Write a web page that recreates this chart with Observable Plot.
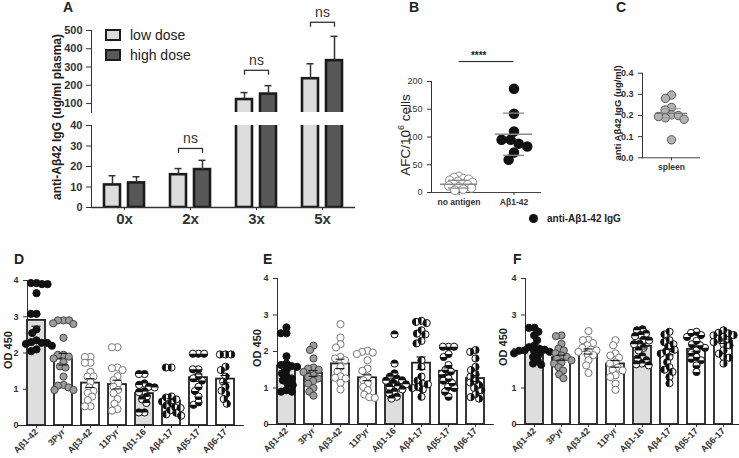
<!DOCTYPE html>
<html><head><meta charset="utf-8">
<script src="https://cdn.jsdelivr.net/npm/d3@7"></script>
<script src="https://cdn.jsdelivr.net/npm/@observablehq/plot@0.6"></script>
<style>
body{margin:0;background:#fff;}
#fig{position:relative;width:739px;height:458px;overflow:hidden;background:#fff;font-family:"Liberation Sans",Arial,Helvetica,sans-serif;color:#222}
.abs{position:absolute;line-height:1}
.abs svg{overflow:visible;display:block}
.letter{position:absolute;font-size:14px;font-weight:bold;line-height:1;color:#222}
.ylab{position:absolute;white-space:nowrap;line-height:1;transform:translate(-50%,-50%) rotate(-90deg);color:#222}
.pA [aria-label^="y-axis"] text{font-weight:bold;font-size:11px}
.pA [aria-label^="fx-axis"] text{font-weight:bold;font-size:15px}
.pB [aria-label^="y-axis"] text{font-size:9px}
.pB [aria-label^="fx-axis"] text,.pC [aria-label^="fx-axis"] text{font-weight:bold;font-size:8.5px}
.pC [aria-label^="y-axis"] text{font-weight:bold;font-size:9px}
.pD [aria-label^="y-axis"] text{font-weight:bold;font-size:9px}
.pD [aria-label^="fx-axis"] text{font-weight:bold;font-size:9px}
</style></head>
<body><div id="fig"></div>
<script>
// ---------------- DATA ----------------
// Panel A
const doseGroups = ["0x", "2x", "3x", "5x"];
const lowDoseMean = [11, 16, 122, 236];
const lowDoseSD = [4.5, 3, 38, 82];
const highDoseMean = [12, 18.5, 152, 335];
const highDoseSD = [3, 4.5, 46, 133];
const nsGroups = ["2x", "3x", "5x"];
const nsBracketLevel = [28.8, 282, 545];

// Panel B
const bCategories = ["no antigen", "Aβ1-42"];
const bNoAntigen = [29, 27, 25, 24, 22, 20, 18, 16, 15, 14, 12, 10, 8, 6, 4];
const bAbeta42 = [187, 142, 110, 95, 88, 95, 83, 72, 59];
const bMean = [15, 105];
const bSD = [7, 38];
const bSignificance = 236;

// Panel C
const cCategory = ["spleen"];
const cSpleen = [0.297, 0.281, 0.238, 0.226, 0.203, 0.2, 0.189, 0.182, 0.195, 0.085];
const cMean = 0.21;
const cSD = 0.022;

// Panels D, E, F
const peptides = ["Aβ1-42", "3Pyr", "Aβ3-42", "11Pyr", "Aβ1-16", "Aβ4-17", "Aβ5-17", "Aβ6-17"];
const dPoints = [
  [3.93, 3.93, 3.9, 3.9, 3.65, 3.08, 3.08, 2.65, 2.55, 2.35, 2.3, 2.28, 2.28, 2.25, 2.2, 2.1, 2.05],
  [2.9, 2.9, 2.9, 2.82, 2.8, 2.42, 1.95, 1.95, 1.9, 1.85, 1.75, 1.63, 1.6, 1.35, 1.12, 1.1, 1.05, 0.98, 0.98],
  [1.89, 1.89, 1.73, 1.73, 1.48, 1.35, 1.35, 1.2, 1.05, 0.95, 0.9, 0.8, 0.7, 0.53, 0.53],
  [2.16, 2.16, 1.6, 1.58, 1.53, 1.36, 1.25, 1.16, 1.07, 0.98, 0.89, 0.73, 0.6, 0.45, 0.41],
  [1.42, 1.42, 1.16, 1.12, 1.07, 1.05, 0.94, 0.92, 0.8, 0.72, 0.62, 0.36, 0.36],
  [1.6, 1.6, 0.8, 0.77, 0.72, 0.66, 0.62, 0.55, 0.5, 0.48, 0.42, 0.35, 0.31, 0.27],
  [1.98, 1.98, 1.98, 1.55, 1.55, 1.36, 1.3, 1.24, 1.07, 0.95, 0.8, 0.64, 0.57],
  [1.96, 1.96, 1.96, 1.62, 1.53, 1.35, 1.21, 1.07, 0.96, 0.87, 0.73, 0.6]
];
const dMean = [2.9, 1.83, 1.17, 1.13, 0.88, 0.67, 1.32, 1.28];
const dSEM = [0.16, 0.16, 0.12, 0.12, 0.08, 0.07, 0.1, 0.1];

const ePoints = [
  [2.66, 2.5, 2.5, 1.87, 1.67, 1.63, 1.6, 1.58, 1.49, 1.4, 1.32, 1.26, 1.21, 1.12, 1.08, 0.94, 0.9, 0.9],
  [2.16, 2.04, 1.81, 1.56, 1.53, 1.5, 1.44, 1.35, 1.3, 1.26, 1.19, 1.12, 1.0, 0.9, 0.79],
  [2.75, 2.38, 2.2, 2.11, 1.85, 1.81, 1.76, 1.58, 1.45, 1.32, 1.28, 1.26, 1.14, 0.96],
  [2.02, 1.99, 1.97, 1.93, 1.76, 1.53, 1.47, 1.31, 1.21, 1.12, 1.03, 0.94, 0.82, 0.75, 0.73],
  [2.47, 1.67, 1.4, 1.31, 1.26, 1.21, 1.2, 1.14, 1.1, 1.05, 1.03, 0.96, 0.9, 0.85, 0.76, 0.71],
  [2.84, 2.81, 2.78, 2.58, 2.49, 2.47, 2.29, 2.22, 1.76, 1.58, 1.31, 1.2, 1.12, 1.1, 1.03, 1.0, 0.96, 0.76],
  [2.13, 2.13, 2.13, 1.93, 1.85, 1.63, 1.5, 1.45, 1.38, 1.26, 1.2, 1.14, 1.03, 1.0, 0.9, 0.76],
  [2.04, 1.99, 1.81, 1.58, 1.49, 1.38, 1.31, 1.2, 1.15, 1.08, 1.0, 0.94, 0.83, 0.75, 0.71]
];
const eMean = [1.6, 1.4, 1.66, 1.28, 1.2, 1.68, 1.46, 1.26];
const eSEM = [0.1, 0.08, 0.13, 0.08, 0.07, 0.17, 0.09, 0.08];

const fPoints = [
  [2.65, 2.65, 2.54, 2.44, 2.31, 2.17, 2.12, 2.08, 2.05, 2.03, 2.02, 2.0, 1.99, 1.95, 1.92, 1.85, 1.76, 1.67, 1.64],
  [2.44, 2.42, 2.21, 2.08, 2.03, 1.95, 1.89, 1.85, 1.8, 1.76, 1.7, 1.67, 1.57, 1.48, 1.37, 1.27],
  [2.56, 2.32, 2.31, 2.23, 2.17, 2.1, 2.05, 2.03, 1.99, 1.92, 1.9, 1.76, 1.62, 1.41],
  [2.31, 2.17, 1.95, 1.89, 1.83, 1.7, 1.67, 1.56, 1.5, 1.48, 1.35, 1.3, 1.12, 0.95],
  [2.61, 2.58, 2.49, 2.45, 2.42, 2.32, 2.3, 2.21, 2.2, 2.1, 2.03, 1.87, 1.8, 1.76, 1.67, 1.65, 1.62],
  [2.54, 2.47, 2.31, 2.26, 2.2, 2.14, 2.05, 2.0, 1.94, 1.85, 1.71, 1.57, 1.5, 1.44, 1.3, 1.13],
  [2.54, 2.51, 2.45, 2.4, 2.29, 2.2, 2.17, 2.1, 2.03, 1.96, 1.85, 1.8, 1.76, 1.62, 1.44],
  [2.58, 2.51, 2.5, 2.45, 2.44, 2.4, 2.35, 2.32, 2.26, 2.2, 2.17, 2.03, 1.94, 1.85, 1.83, 1.67]
];
const fMean = [2.1, 1.83, 2.0, 1.66, 2.14, 1.99, 2.06, 2.28];
const fSEM = [0.07, 0.07, 0.07, 0.09, 0.07, 0.08, 0.07, 0.06];

// ---------------- STYLES ----------------
const FONT = '"Liberation Sans", Arial, Helvetica, sans-serif';
const baseStyle = {fontFamily: FONT, fontSize: "10px", color: "#333", background: "transparent", overflow: "visible"};
const fig = document.getElementById("fig");

function halfSymbol(a0) {
  return {draw(ctx, size) {
    const r = Math.sqrt(size / Math.PI);
    ctx.moveTo(0, 0);
    ctx.lineTo(r * Math.cos(a0), r * Math.sin(a0));
    ctx.arc(0, 0, r, a0, a0 + Math.PI);
    ctx.closePath();
  }};
}
const markerStyles = [
  {fill: "#111", stroke: "#111"},
  {fill: "#9c9c9c", stroke: "#444"},
  {fill: "#fff", stroke: "#777"},
  {fill: "#fff", stroke: "#777"},
  {fill: "#fff", stroke: "#111", half: halfSymbol(Math.PI)},
  {fill: "#fff", stroke: "#111", half: halfSymbol(Math.PI / 2)},
  {fill: "#fff", stroke: "#111", half: halfSymbol(0)},
  {fill: "#fff", stroke: "#111", half: halfSymbol(-Math.PI / 2)}
];
const barFills = ["#dedede", "#fff", "#fff", "#fff", "#dedede", "#fff", "#fff", "#fff"];

function place(node, left, top, cls) {
  const d = document.createElement("div");
  d.className = "abs " + (cls || "");
  d.style.left = left + "px";
  d.style.top = top + "px";
  d.appendChild(node);
  fig.appendChild(d);
  return d;
}
function html(tag, cls, text, css) {
  const e = document.createElement(tag);
  if (cls) e.className = cls;
  if (text != null) e.innerHTML = text;
  Object.assign(e.style, css || {});
  fig.appendChild(e);
  return e;
}

// ---------------- PANEL A ----------------
const aRows = doseGroups.flatMap((g, i) => [
  {group: g, dose: "low", mean: lowDoseMean[i], sd: lowDoseSD[i]},
  {group: g, dose: "high", mean: highDoseMean[i], sd: highDoseSD[i]}
]);
const nsRows = nsGroups.map((g, i) => ({group: g, y: nsBracketLevel[i]}));
const nsEnds = nsRows.flatMap(d => [{...d, dose: "low"}, {...d, dose: "high"}]);
const doseFill = {low: "#dcdcdc", high: "#585858"};

function aMarks(lo, hi) {
  const inR = v => v >= lo && v <= hi;
  const err = aRows.filter(d => inR(d.mean) && inR(d.mean + d.sd));
  const br = nsRows.filter(d => d.y >= lo && (hi > 100 || d.y <= hi));
  const brEnds = nsEnds.filter(d => d.y >= lo && (hi > 100 || d.y <= hi));
  return [
    ...["low", "high"].map(k => Plot.barY(aRows.filter(d => d.dose === k), {
      fx: "group", x: "dose", y1: 0, y2: "mean", fill: doseFill[k], stroke: "#1c1c1c", strokeWidth: 2.6, clip: true
    })),
    Plot.ruleX(err, {fx: "group", x: "dose", y1: "mean", y2: d => d.mean + d.sd, stroke: "#333", strokeWidth: 1.5}),
    Plot.tickY(err, {fx: "group", x: "dose", y: d => d.mean + d.sd, inset: 4.5, stroke: "#333", strokeWidth: 1.5}),
    Plot.link(br, {fx: "group", x1: () => "low", x2: () => "high", y1: "y", y2: "y", stroke: "#333", strokeWidth: 1.3}),
    Plot.ruleX(brEnds, {fx: "group", x: "dose", y1: "y", y2: "y", insetTop: 5, stroke: "#333", strokeWidth: 1.3}),
    Plot.text(br, {fx: "group", y: "y", text: () => "ns", dy: -10, fontSize: 14, fill: "#333"})
  ];
}
const aCommon = {
  width: 370, marginLeft: 90, marginRight: 14, style: baseStyle,
  x: {domain: ["low", "high"], paddingInner: 0.32, paddingOuter: 0.49, axis: null}
};
const aUpper = Plot.plot({
  ...aCommon, height: 112, marginTop: 30, marginBottom: 0,
  fx: {domain: doseGroups, padding: 0, axis: null},
  y: {domain: [51, 500], ticks: [100, 200, 300, 400, 500], tickSize: 5, line: true, label: null},
  marks: aMarks(51, 100000)
});
const aLower = Plot.plot({
  ...aCommon, height: 125, marginTop: 13, marginBottom: 30,
  fx: {domain: doseGroups, padding: 0, axis: "bottom", label: null, tickSize: 3, tickPadding: 3},
  y: {domain: [0, 40], ticks: [0, 10, 20, 30, 40], tickSize: 5, line: true, label: null},
  marks: [...aMarks(0, 40), Plot.ruleY([0], {stroke: "#333", strokeWidth: 1.5})]
});
place(aUpper, 0, 0, "pA");
place(aLower, 0, 112, "pA");
html("div", "ylab", "anti-Aβ42 IgG (ug/ml plasma)", {left: "57px", top: "117px", fontWeight: "bold", fontSize: "12px"});
// legend A
[["low dose", doseFill.low, 29], ["high dose", doseFill.high, 49]].forEach(([t, c, y]) => {
  html("div", null, "", {position: "absolute", left: "105px", top: y + "px", width: "12px", height: "8px", background: c, border: "2.5px solid #1c1c1c"});
  html("div", null, t, {position: "absolute", left: "130px", top: (y - 2) + "px", fontSize: "14px", lineHeight: "16px", color: "#222"});
});

// ---------------- PANEL B ----------------
const bRowsNo = bNoAntigen.map(v => ({cat: bCategories[0], v}));
const bRowsAb = bAbeta42.map(v => ({cat: bCategories[1], v}));
const bStats = bCategories.map((c, i) => ({cat: c, mean: bMean[i], sd: bSD[i]}));
const bW = 170, bML = 51, bMR = 9;
const bHalf = (bW - bML - bMR) / bCategories.length / 2;
const bBr = bCategories.map(c => ({cat: c, y: bSignificance}));
const bPlot = Plot.plot({
  width: bW, height: 175, marginLeft: bML, marginRight: bMR, marginTop: 41, marginBottom: 23, style: baseStyle,
  fx: {domain: bCategories, padding: 0, axis: "bottom", label: null, tickSize: 3, tickPadding: 3},
  y: {domain: [0, 200], ticks: [0, 50, 100, 150, 200], tickSize: 4, line: true, label: null},
  marks: [
    Plot.ruleY([0], {stroke: "#444"}),
    Plot.dot(bRowsNo, Plot.dodgeX({anchor: "middle", padding: -3.5}, {fx: "cat", y: "v", r: 4.3, fill: "#fff", stroke: "#888", strokeWidth: 1})),
    Plot.dot(bRowsAb, Plot.dodgeX({anchor: "middle", padding: 0}, {fx: "cat", y: "v", r: 4.5, fill: "#111", stroke: "#111"})),
    Plot.tickY(bStats, {fx: "cat", y: "mean", inset: 9, stroke: "#8a8a8a", strokeWidth: 1.5}),
    Plot.ruleX(bStats, {fx: "cat", y1: d => d.mean - d.sd, y2: d => d.mean + d.sd, stroke: "#8a8a8a", strokeWidth: 1.3}),
    Plot.tickY(bStats, {fx: "cat", y: d => d.mean + d.sd, inset: 17, stroke: "#8a8a8a", strokeWidth: 1.3}),
    Plot.tickY(bStats, {fx: "cat", y: d => d.mean - d.sd, inset: 17, stroke: "#8a8a8a", strokeWidth: 1.3}),
    Plot.ruleY(bBr.slice(0, 1), {fx: "cat", y: "y", insetLeft: bHalf, stroke: "#333", strokeWidth: 1.2}),
    Plot.ruleY(bBr.slice(1), {fx: "cat", y: "y", insetRight: bHalf, stroke: "#333", strokeWidth: 1.2}),
    Plot.ruleX(bBr, {fx: "cat", y1: "y", y2: "y", insetTop: 5, stroke: "#333", strokeWidth: 1.2}),
    Plot.text(bBr.slice(0, 1), {fx: "cat", y: "y", frameAnchor: "right", text: () => "****", dy: -6, fontSize: 10, fontWeight: "bold", fill: "#222"})
  ]
});
place(bPlot, 380, 40, "pB");
html("div", "ylab", "AFC/10<sup style='font-size:9px;vertical-align:6px'>6</sup> cells", {left: "405px", top: "135px", fontSize: "13.5px"});
html("div", null, "", {position: "absolute", left: "529px", top: "214px", width: "9px", height: "9px", borderRadius: "50%", background: "#111"});
html("div", null, "anti-Aβ1-42 IgG", {position: "absolute", left: "547px", top: "213px", fontSize: "10px", fontWeight: "bold", lineHeight: "12px"});

// ---------------- PANEL C ----------------
const cRows = cSpleen.map(v => ({cat: cCategory[0], v}));
const cStats = [{cat: cCategory[0], mean: cMean, sd: cSD}];
const cPlot = Plot.plot({
  width: 135, height: 135, marginLeft: 62, marginRight: 15, marginTop: 32.7, marginBottom: 17.7, style: baseStyle,
  fx: {domain: cCategory, padding: 0, axis: "bottom", label: null, tickSize: 3, tickPadding: 3},
  y: {domain: [0, 0.4], ticks: [0, 0.1, 0.2, 0.3, 0.4], tickFormat: d3.format(".1f"), tickSize: 4, line: true, label: null},
  marks: [
    Plot.ruleY([0], {stroke: "#444"}),
    Plot.dot(cRows, Plot.dodgeX({anchor: "middle", padding: -1.5}, {fx: "cat", y: "v", r: 4.2, fill: "#b3b3b3", stroke: "#555", strokeWidth: 1})),
    Plot.tickY(cStats, {fx: "cat", y: "mean", inset: 13, stroke: "#777", strokeWidth: 1.3}),
    Plot.tickY(cStats, {fx: "cat", y: d => d.mean + d.sd, inset: 19, stroke: "#999", strokeWidth: 1}),
    Plot.tickY(cStats, {fx: "cat", y: d => d.mean - d.sd, inset: 19, stroke: "#999", strokeWidth: 1})
  ]
});
place(cPlot, 580, 40, "pC");
html("div", "ylab", "anti Aβ42 IgG (ug/ml)", {left: "618px", top: "113px", fontSize: "9.5px", fontWeight: "bold"});

// ---------------- PANELS D, E, F ----------------
function bottomPanel(points, means, sems, opts) {
  const rows = points.flatMap((vals, i) => vals.map(v => ({cat: peptides[i], v, k: i})));
  const stats = peptides.map((c, i) => ({cat: c, mean: means[i], sem: sems[i], k: i}));
  const plotW = opts.width - opts.marginLeft - opts.marginRight;
  const step = plotW / (peptides.length - 0.32 + 2 * opts.outer);
  const ext = Math.max(step * 0.32, step * opts.outer) + 1;
  const dotMarks = [];
  peptides.forEach((c, i) => {
    const st = markerStyles[i];
    const sub = rows.filter(d => d.k === i);
    const dodge = {anchor: "middle", padding: -1.6};
    dotMarks.push(Plot.dot(sub, Plot.dodgeX(dodge, {fx: "cat", y: "v", r: 3.6, fill: st.fill, stroke: st.stroke, strokeWidth: 1})));
    if (st.half) dotMarks.push(Plot.dot(sub, Plot.dodgeX(dodge, {fx: "cat", y: "v", r: 3.6, symbol: st.half, fill: "#111", stroke: "none"})));
  });
  return Plot.plot({
    width: opts.width, height: 196, marginLeft: opts.marginLeft, marginRight: opts.marginRight,
    marginTop: opts.marginTop, marginBottom: 196 - opts.marginTop - opts.plotH, style: baseStyle,
    fx: {domain: peptides, paddingInner: 0.32, paddingOuter: opts.outer, axis: "bottom", label: null, tickSize: 3, tickPadding: 2, tickRotate: -45},
    y: {domain: [0, 4], ticks: [0, 1, 2, 3, 4], tickFormat: d3.format("d"), tickSize: 4, line: true, label: null},
    marks: [
      Plot.barY(stats, {fx: "cat", y: "mean", fill: d => barFills[d.k], stroke: "#222", strokeWidth: 1.8}),
      Plot.ruleY([0], {stroke: "#222", strokeWidth: 1.2, insetLeft: -ext, insetRight: -ext}),
      ...dotMarks,
      Plot.ruleX(stats, {fx: "cat", y1: d => d.mean - d.sem, y2: d => d.mean + d.sem, stroke: "#111", strokeWidth: 1.1}),
      Plot.tickY(stats, {fx: "cat", y: d => d.mean + d.sem, inset: 4.5, stroke: "#111", strokeWidth: 1.1}),
      Plot.tickY(stats, {fx: "cat", y: d => d.mean - d.sem, inset: 4.5, stroke: "#111", strokeWidth: 1.1})
    ]
  });
}
place(bottomPanel(dPoints, dMean, dSEM, {width: 250, marginLeft: 20, marginRight: 8, marginTop: 18, plotH: 145, outer: 0.2}), 0, 262, "pD");
place(bottomPanel(ePoints, eMean, eSEM, {width: 245, marginLeft: 21, marginRight: 5, marginTop: 16, plotH: 146, outer: 0.15}), 250, 262, "pD");
place(bottomPanel(fPoints, fMean, fSEM, {width: 239, marginLeft: 21, marginRight: 2, marginTop: 16, plotH: 146, outer: 0.03}), 500, 262, "pD");
[[8, 350], [257, 348], [503, 347]].forEach(([x, y]) =>
  html("div", "ylab", "OD 450", {left: x + "px", top: y + "px", fontSize: "11px", fontWeight: "bold"}));

// ---------------- PANEL LETTERS ----------------
[["A", 63, 0], ["B", 409, 0], ["C", 616, 0], ["D", 14, 252], ["E", 263, 252], ["F", 513, 252]].forEach(([t, x, y]) =>
  html("div", "letter", t, {left: x + "px", top: y + "px"}));
</script>
</body></html>
